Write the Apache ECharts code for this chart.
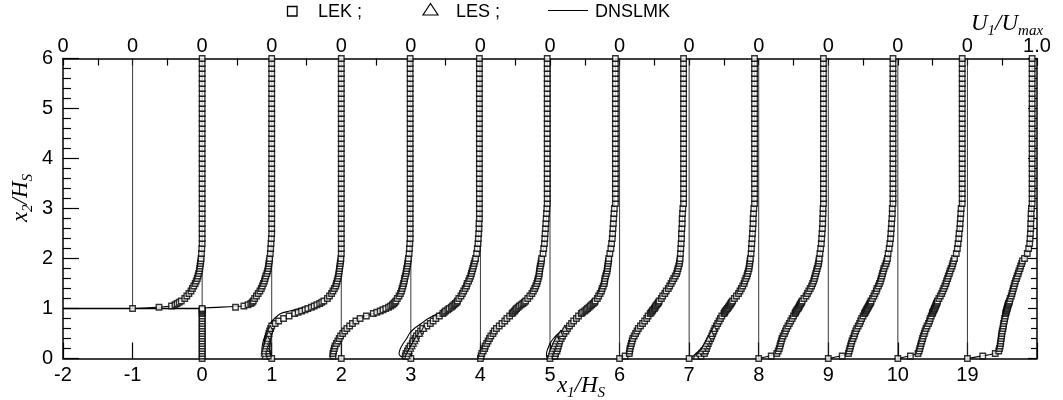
<!DOCTYPE html>
<html>
<head>
<meta charset="utf-8">
<script src="https://cdn.jsdelivr.net/npm/echarts@6/dist/echarts.min.js"></script>
<style>
html, body { margin: 0; padding: 0; background: #fff; }
#chart { width: 1063px; height: 400px; }
</style>
</head>
<body>
<div id="chart"></div>
<script>
// profile stations on the x1/HS axis (the last one is x1/HS = 19, drawn in slot 11)
var stations = [-1, 0, 1, 2, 3, 4, 5, 6, 7, 8, 9, 10, 11];
var xTickLabels = ['-2', '-1', '0', '1', '2', '3', '4', '5', '6', '7', '8', '9', '10', '19', ''];
var topTickLabels = ['0', '0', '0', '0', '0', '0', '0', '0', '0', '0', '0', '0', '0', '0', '1.0'];
var guideFrom = [1, 0, 0, 0, 0, 0, 0, 0, 0, 0, 0, 0, 0];
var stepX = [-2, 0, 0];
var stepY = [1, 1, 0];

// LEK: U1/Umax at these heights (lower part), offset from the station
var x2Low = [0, 0.05, 0.1, 0.15, 0.2, 0.25, 0.3, 0.35, 0.4, 0.45, 0.5, 0.55, 0.6, 0.65, 0.7, 0.75, 0.8, 0.85, 0.9,
  0.925, 0.95, 0.975, 1.0, 1.025, 1.05, 1.075, 1.1, 1.125, 1.15,
  1.2, 1.25, 1.3, 1.35, 1.4, 1.45, 1.5, 1.55, 1.6, 1.65, 1.7, 1.75, 1.8, 1.85, 1.9, 1.95, 2.0,
  2.1, 2.2, 2.3, 2.4, 2.5, 2.6, 2.7, 2.8, 2.9, 3.0];
var x2Top = [3.1, 3.2, 3.3, 3.4, 3.5, 3.6, 3.7, 3.8, 3.9, 4.0, 4.1, 4.2, 4.3, 4.4, 4.5,
  4.6, 4.7, 4.8, 4.9, 5.0, 5.1, 5.2, 5.3, 5.4, 5.5, 5.6, 5.7, 5.8, 5.9, 6.0];

var lekM1 = [null, null, null, null, null, null, null, null, null, null, null, null, null, null, null, null, null, null, null,
  null, null, null, 0, 0.38, 0.56, 0.61, 0.64, 0.67, 0.7,
  0.75, 0.78, 0.81, 0.84, 0.86, 0.88, 0.9, 0.915, 0.93, 0.94, 0.95, 0.96, 0.965, 0.97, 0.975, 0.98, 0.985,
  0.99, 0.995, 1, 1, 1, 1, 1, 1, 1, 1];
var lek0 = [0, 0, 0, 0, 0, 0, 0, 0, 0, 0, 0, 0, 0, 0, 0, 0, 0, 0, 0,
  0, 0, 0, 0, 0.48, 0.6, 0.66, 0.7, 0.72, 0.735,
  0.755, 0.78, 0.805, 0.83, 0.85, 0.865, 0.88, 0.895, 0.905, 0.915, 0.93, 0.94, 0.95, 0.955, 0.96, 0.965, 0.97,
  0.98, 0.985, 0.99, 0.995, 1, 1, 1, 1, 1, 1];
var lek1 = [0, -0.05, -0.06, -0.07, -0.07, -0.07, -0.065, -0.06, -0.055, -0.05, -0.04, -0.03, -0.015, 0, 0.05, 0.1, 0.17, 0.25, 0.33,
  0.38, 0.43, 0.48, 0.52, 0.57, 0.61, 0.65, 0.69, 0.72, 0.75,
  0.8, 0.83, 0.86, 0.88, 0.9, 0.92, 0.93, 0.94, 0.95, 0.96, 0.965, 0.97, 0.975, 0.98, 0.985, 0.99, 0.995,
  1, 1, 1, 1, 1, 1, 1, 1, 1, 1];
var lek2 = [0, -0.12, -0.12, -0.11, -0.1, -0.09, -0.07, -0.05, -0.03, -0.01, 0.02, 0.05, 0.08, 0.12, 0.16, 0.21, 0.27, 0.36, 0.46,
  0.51, 0.56, 0.6, 0.64, 0.68, 0.71, 0.735, 0.755, 0.77, 0.785,
  0.805, 0.83, 0.85, 0.865, 0.875, 0.885, 0.895, 0.905, 0.91, 0.92, 0.93, 0.935, 0.94, 0.95, 0.955, 0.96, 0.965,
  0.975, 0.98, 0.985, 0.99, 0.99, 0.99, 0.99, 0.99, 0.99, 0.99];
var lek3 = [0, -0.08, -0.07, -0.05, -0.03, -0.01, 0.02, 0.03, 0.06, 0.08, 0.11, 0.14, 0.17, 0.23, 0.28, 0.32, 0.36, 0.41, 0.46,
  0.48, 0.5, 0.53, 0.55, 0.58, 0.6, 0.62, 0.64, 0.66, 0.67,
  0.69, 0.72, 0.74, 0.76, 0.78, 0.8, 0.81, 0.83, 0.845, 0.86, 0.87, 0.88, 0.89, 0.9, 0.91, 0.92, 0.93,
  0.945, 0.955, 0.965, 0.97, 0.975, 0.98, 0.98, 0.985, 0.985, 0.985];
var lek4 = [0, 0.01, 0.02, 0.04, 0.06, 0.07, 0.09, 0.11, 0.13, 0.15, 0.18, 0.2, 0.23, 0.27, 0.31, 0.35, 0.38, 0.42, 0.455,
  0.47, 0.49, 0.505, 0.52, 0.54, 0.56, 0.585, 0.61, 0.63, 0.65,
  0.68, 0.71, 0.74, 0.76, 0.78, 0.795, 0.81, 0.82, 0.83, 0.84, 0.845, 0.85, 0.855, 0.86, 0.87, 0.875, 0.88,
  0.9, 0.91, 0.92, 0.925, 0.93, 0.935, 0.94, 0.945, 0.95, 0.955];
var lek5 = [0, 0.07, 0.08, 0.1, 0.11, 0.12, 0.13, 0.14, 0.16, 0.18, 0.2, 0.23, 0.25, 0.28, 0.31, 0.34, 0.38, 0.41, 0.45,
  0.47, 0.5, 0.52, 0.54, 0.56, 0.58, 0.6, 0.62, 0.64, 0.65,
  0.68, 0.7, 0.72, 0.74, 0.75, 0.765, 0.78, 0.785, 0.79, 0.8, 0.81, 0.82, 0.825, 0.83, 0.835, 0.84, 0.845,
  0.86, 0.875, 0.885, 0.895, 0.9, 0.905, 0.91, 0.915, 0.92, 0.925];
var lek6 = [0, 0.08, 0.14, 0.145, 0.15, 0.16, 0.17, 0.18, 0.19, 0.21, 0.23, 0.25, 0.27, 0.3, 0.33, 0.36, 0.39, 0.41, 0.44,
  0.455, 0.47, 0.48, 0.5, 0.51, 0.52, 0.535, 0.55, 0.56, 0.57,
  0.6, 0.62, 0.65, 0.67, 0.7, 0.72, 0.74, 0.76, 0.78, 0.8, 0.82, 0.83, 0.84, 0.85, 0.86, 0.865, 0.87,
  0.875, 0.88, 0.885, 0.89, 0.89, 0.895, 0.9, 0.9, 0.905, 0.91];
var lek7 = [0, 0.17, 0.22, 0.235, 0.25, 0.26, 0.275, 0.29, 0.31, 0.325, 0.34, 0.355, 0.37, 0.39, 0.41, 0.43, 0.45, 0.47, 0.5,
  0.51, 0.52, 0.535, 0.55, 0.565, 0.575, 0.59, 0.6, 0.61, 0.625,
  0.65, 0.68, 0.71, 0.73, 0.75, 0.77, 0.79, 0.8, 0.815, 0.83, 0.84, 0.85, 0.86, 0.865, 0.87, 0.875, 0.88,
  0.89, 0.895, 0.9, 0.905, 0.91, 0.915, 0.92, 0.92, 0.925, 0.93];
var lek8 = [0, 0.18, 0.26, 0.28, 0.295, 0.305, 0.315, 0.325, 0.335, 0.35, 0.37, 0.385, 0.4, 0.42, 0.44, 0.46, 0.48, 0.5, 0.52,
  0.53, 0.54, 0.55, 0.565, 0.575, 0.585, 0.595, 0.605, 0.615, 0.625,
  0.65, 0.68, 0.7, 0.72, 0.74, 0.76, 0.775, 0.79, 0.8, 0.81, 0.82, 0.83, 0.84, 0.85, 0.86, 0.865, 0.87,
  0.88, 0.89, 0.9, 0.905, 0.91, 0.915, 0.92, 0.92, 0.925, 0.925];
var lek9 = [0, 0.2, 0.29, 0.3, 0.31, 0.32, 0.33, 0.34, 0.355, 0.37, 0.38, 0.395, 0.41, 0.43, 0.45, 0.465, 0.48, 0.5, 0.52,
  0.53, 0.54, 0.55, 0.56, 0.57, 0.58, 0.59, 0.6, 0.61, 0.615,
  0.635, 0.655, 0.67, 0.69, 0.7, 0.72, 0.735, 0.75, 0.76, 0.77, 0.78, 0.79, 0.8, 0.815, 0.83, 0.84, 0.85,
  0.86, 0.875, 0.885, 0.895, 0.9, 0.905, 0.91, 0.915, 0.92, 0.92];
var lek10 = [0, 0.18, 0.29, 0.305, 0.315, 0.325, 0.335, 0.345, 0.355, 0.365, 0.38, 0.39, 0.405, 0.42, 0.44, 0.455, 0.465, 0.48, 0.495,
  0.5, 0.51, 0.52, 0.525, 0.535, 0.54, 0.55, 0.555, 0.565, 0.57,
  0.59, 0.61, 0.63, 0.645, 0.66, 0.675, 0.69, 0.7, 0.715, 0.725, 0.74, 0.75, 0.765, 0.78, 0.79, 0.8, 0.815,
  0.84, 0.855, 0.865, 0.875, 0.88, 0.89, 0.895, 0.9, 0.905, 0.91];
var lek19 = [0, 0.22, 0.4, 0.45, 0.46, 0.47, 0.475, 0.48, 0.485, 0.49, 0.495, 0.5, 0.51, 0.515, 0.52, 0.53, 0.535, 0.545, 0.55,
  0.555, 0.56, 0.565, 0.57, 0.575, 0.58, 0.585, 0.59, 0.6, 0.605,
  0.615, 0.63, 0.64, 0.65, 0.66, 0.67, 0.68, 0.69, 0.705, 0.715, 0.73, 0.74, 0.755, 0.765, 0.78, 0.79, 0.82,
  0.86, 0.88, 0.895, 0.9, 0.905, 0.91, 0.91, 0.915, 0.915, 0.92];
// free-stream value above x2 = 3 for each station
var uTop = [1, 1, 1, 0.99, 0.985, 0.96, 0.94, 0.92, 0.94, 0.93, 0.93, 0.925, 0.93];

// DNSLMK line
var dnsLev = [0, 0.05, 0.1, 0.2, 0.3, 0.4, 0.5, 0.6, 0.7, 0.8, 0.9, 0.95, 1.0, 1.05, 1.1, 1.2, 1.3, 1.4, 1.5, 1.6, 1.8, 2.0, 2.2, 2.5, 3.0, 4.0, 6.0];
var dnsM1 = [null, null, null, null, null, null, null, null, null, null, null, null, 0, 0.55, 0.64, 0.75, 0.81, 0.86, 0.9, 0.93, 0.965, 0.985, 0.995, 1, 1, 1, 1];
var dns0 = [0, 0, 0, 0, 0, 0, 0, 0, 0, 0, 0, 0, 0, 0.6, 0.7, 0.755, 0.805, 0.85, 0.88, 0.905, 0.95, 0.97, 0.985, 1, 1, 1, 1];
var dns1 = [-0.1, -0.13, -0.14, -0.14, -0.13, -0.11, -0.08, -0.05, -0.02, 0.04, 0.13, 0.26, 0.4, 0.56, 0.7, 0.8, 0.86, 0.9, 0.93, 0.95, 0.975, 0.995, 1, 1, 1, 1, 1];
var dns2 = [-0.1, -0.16, -0.15, -0.12, -0.08, -0.04, 0.01, 0.07, 0.15, 0.26, 0.45, 0.55, 0.64, 0.71, 0.755, 0.805, 0.85, 0.875, 0.895, 0.91, 0.94, 0.965, 0.985, 0.99, 0.99, 0.99, 0.99];
var dns3 = [-0.08, -0.15, -0.17, -0.15, -0.11, -0.06, -0.02, 0.05, 0.15, 0.25, 0.39, 0.47, 0.54, 0.6, 0.64, 0.69, 0.74, 0.78, 0.81, 0.845, 0.89, 0.93, 0.955, 0.975, 0.985, 0.985, 0.985];
var dns4 = [0, 0, 0.01, 0.05, 0.09, 0.13, 0.18, 0.23, 0.31, 0.38, 0.455, 0.49, 0.52, 0.56, 0.61, 0.68, 0.74, 0.78, 0.81, 0.83, 0.855, 0.88, 0.91, 0.93, 0.955, 0.96, 0.96];
var dns5 = [-0.03, -0.05, -0.05, -0.03, 0, 0.05, 0.12, 0.21, 0.31, 0.39, 0.45, 0.5, 0.54, 0.58, 0.62, 0.68, 0.72, 0.75, 0.78, 0.79, 0.825, 0.845, 0.875, 0.9, 0.925, 0.94, 0.94];
var dns6 = [0, 0.06, 0.11, 0.14, 0.16, 0.19, 0.23, 0.27, 0.33, 0.39, 0.44, 0.47, 0.5, 0.52, 0.55, 0.6, 0.65, 0.7, 0.74, 0.78, 0.84, 0.87, 0.88, 0.89, 0.91, 0.92, 0.92];
var dns7 = [0.02, 0.06, 0.1, 0.17, 0.23, 0.29, 0.33, 0.37, 0.41, 0.45, 0.5, 0.52, 0.55, 0.575, 0.6, 0.65, 0.71, 0.75, 0.79, 0.815, 0.86, 0.88, 0.895, 0.91, 0.93, 0.94, 0.94];
var dns8 = [0, 0.15, 0.24, 0.29, 0.315, 0.335, 0.37, 0.4, 0.44, 0.48, 0.52, 0.54, 0.565, 0.585, 0.605, 0.65, 0.7, 0.74, 0.775, 0.8, 0.84, 0.87, 0.89, 0.91, 0.925, 0.93, 0.93];
var dns9 = [0, 0.17, 0.27, 0.31, 0.33, 0.355, 0.38, 0.41, 0.45, 0.48, 0.52, 0.54, 0.56, 0.58, 0.6, 0.635, 0.67, 0.7, 0.735, 0.76, 0.8, 0.85, 0.875, 0.9, 0.92, 0.93, 0.93];
var dns10 = [0, 0.16, 0.27, 0.315, 0.335, 0.355, 0.38, 0.405, 0.44, 0.465, 0.495, 0.51, 0.525, 0.54, 0.555, 0.59, 0.63, 0.66, 0.69, 0.715, 0.765, 0.815, 0.855, 0.88, 0.91, 0.925, 0.925];
var dns19 = [0, 0.2, 0.38, 0.46, 0.475, 0.485, 0.495, 0.51, 0.52, 0.535, 0.55, 0.56, 0.57, 0.58, 0.59, 0.615, 0.64, 0.66, 0.68, 0.705, 0.755, 0.82, 0.88, 0.905, 0.92, 0.93, 0.93];

// LES: only seen apart from LEK near the wall
var lesStations = [1, 3, 5, 7];
var lesLev = [0.05, 0.1, 0.15, 0.2, 0.25, 0.3, 0.35, 0.4, 0.5, 0.6];
var les1 = [-0.1, -0.11, -0.11, -0.1, -0.09, -0.08, -0.07, -0.06, -0.04, -0.02];
var les3 = [-0.05, -0.04, -0.02, 0, 0.02, 0.04, 0.06, 0.08, 0.13, 0.19];
var les5 = [0, 0.01, 0.02, 0.035, 0.05, 0.065, 0.08, 0.1, 0.15, 0.21];
var les7 = [0.1, 0.14, 0.17, 0.2, 0.22, 0.24, 0.26, 0.28, 0.32, 0.36];

var lekProfiles = [lekM1, lek0, lek1, lek2, lek3, lek4, lek5, lek6, lek7, lek8, lek9, lek10, lek19];
var dnsProfiles = [dnsM1, dns0, dns1, dns2, dns3, dns4, dns5, dns6, dns7, dns8, dns9, dns10, dns19];
var lesProfiles = [les1, les3, les5, les7];

var chart = echarts.init(document.getElementById('chart'));

var lekData = [];
stations.forEach(function (s, i) {
  lekProfiles[i].forEach(function (u, k) {
    if (u !== null) lekData.push([s + u, x2Low[k]]);
  });
  x2Top.forEach(function (y) {
    lekData.push([s + uTop[i], y]);
  });
});

var lesData = [];
lesStations.forEach(function (s, i) {
  lesProfiles[i].forEach(function (u, k) {
    lesData.push([s + u, lesLev[k]]);
  });
});

var series = [];
stations.forEach(function (s, i) {
  series.push({
    name: 'guide', type: 'line', silent: true, symbol: 'none', z: 1,
    data: [[s, guideFrom[i]], [s, 6]],
    lineStyle: { color: '#222', width: 0.9 }
  });
});
series.push({
  name: 'step', type: 'line', silent: true, symbol: 'none', z: 2,
  data: stepX.map(function (x, k) { return [x, stepY[k]]; }),
  lineStyle: { color: '#000', width: 1.4 }
});
stations.forEach(function (s, i) {
  var pts = [];
  dnsProfiles[i].forEach(function (u, k) {
    if (u !== null) pts.push([s + u, dnsLev[k]]);
  });
  series.push({
    name: 'DNSLMK', type: 'line', symbol: 'none', smooth: 0.3, z: 3,
    data: pts,
    lineStyle: { color: '#000', width: 1.1 }
  });
});
series.push({
  name: 'LEK', type: 'scatter', symbol: 'rect', symbolSize: 5.5, z: 4,
  data: lekData,
  itemStyle: { color: '#fff', borderColor: '#000', borderWidth: 1.35 }
});
series.push({
  name: 'LES', type: 'scatter', symbol: 'triangle', symbolSize: 5.5, z: 5,
  data: lesData,
  itemStyle: { color: '#fff', borderColor: '#000', borderWidth: 1.2 }
});

var axisLine = { show: true, onZero: false, lineStyle: { color: '#000', width: 1.5 } };
var tickLine = { color: '#000', width: 1.2 };
var sans = '"Liberation Sans", Arial, sans-serif';
var serif = '"Liberation Serif", "Times New Roman", serif';

var mathRich = {
  i: { fontFamily: serif, fontStyle: 'italic', fontSize: 23, lineHeight: 30, verticalAlign: 'middle', color: '#000' },
  s: { fontFamily: serif, fontStyle: 'italic', fontSize: 15, lineHeight: 15, verticalAlign: 'bottom', color: '#000' }
};

chart.setOption({
  animation: false,
  backgroundColor: '#fff',
  grid: { left: 63, right: 26, top: 58.5, bottom: 41.5, containLabel: false },
  xAxis: [{
    type: 'value', position: 'bottom', min: -2, max: 12, interval: 1,
    axisLine: axisLine,
    axisTick: { inside: true, length: 16, lineStyle: tickLine },
    splitLine: { show: false },
    axisLabel: {
      color: '#000', fontFamily: sans, fontSize: 20, margin: 7,
      formatter: function (v) { return xTickLabels[Math.round(v) + 2]; }
    }
  }, {
    type: 'value', position: 'top', min: -2, max: 12, interval: 1,
    axisLine: axisLine,
    axisTick: { inside: true, length: 7, lineStyle: tickLine },
    minorTick: { show: true, splitNumber: 2, length: 7, lineStyle: tickLine },
    splitLine: { show: false },
    axisLabel: {
      color: '#000', fontFamily: sans, fontSize: 20, margin: 2,
      formatter: function (v) { return topTickLabels[Math.round(v) + 2]; }
    }
  }],
  yAxis: [{
    type: 'value', position: 'left', min: 0, max: 6, interval: 1,
    axisLine: axisLine,
    axisTick: { inside: true, length: 16, lineStyle: tickLine },
    minorTick: { show: true, splitNumber: 5, length: 8, lineStyle: tickLine },
    splitLine: { show: false },
    axisLabel: { color: '#000', fontFamily: sans, fontSize: 20, margin: 10 }
  }, {
    type: 'value', position: 'right', min: 0, max: 6, interval: 1,
    axisLine: axisLine,
    axisTick: { inside: true, length: 9, lineStyle: tickLine },
    minorTick: { show: true, splitNumber: 5, length: 6, lineStyle: tickLine },
    splitLine: { show: false },
    axisLabel: { show: false }
  }],
  graphic: { elements: [
    // legend
    { type: 'rect', shape: { x: 287.5, y: 6.5, width: 9.5, height: 9.5 }, style: { fill: 'none', stroke: '#000', lineWidth: 1.3 } },
    { type: 'text', x: 318, y: 12, style: { text: 'LEK ;', font: '18px ' + sans, fill: '#000', verticalAlign: 'middle' } },
    { type: 'polygon', shape: { points: [[423, 15], [438, 15], [430.5, 3.5]] }, style: { fill: 'none', stroke: '#000', lineWidth: 1.2 } },
    { type: 'text', x: 456, y: 12, style: { text: 'LES ;', font: '18px ' + sans, fill: '#000', verticalAlign: 'middle' } },
    { type: 'line', shape: { x1: 548, y1: 10.5, x2: 588, y2: 10.5 }, style: { stroke: '#000', lineWidth: 1.2 } },
    { type: 'text', x: 595, y: 12, style: { text: 'DNSLMK', font: '18px ' + sans, fill: '#000', verticalAlign: 'middle' } },
    // axis titles
    { type: 'text', x: 581, y: 386, style: { text: '{i|x}{s|1}{i|/H}{s|S}', rich: mathRich, align: 'center', verticalAlign: 'middle' } },
    { type: 'text', x: 21, y: 198, rotation: Math.PI / 2, style: { text: '{i|x}{s|2}{i|/H}{s|S}', rich: mathRich, align: 'center', verticalAlign: 'middle' } },
    { type: 'text', x: 1007, y: 24, style: { text: '{i|U}{s|1}{i|/U}{s|max}', rich: mathRich, align: 'center', verticalAlign: 'middle' } }
  ] },
  series: series
});
</script>
</body>
</html>
